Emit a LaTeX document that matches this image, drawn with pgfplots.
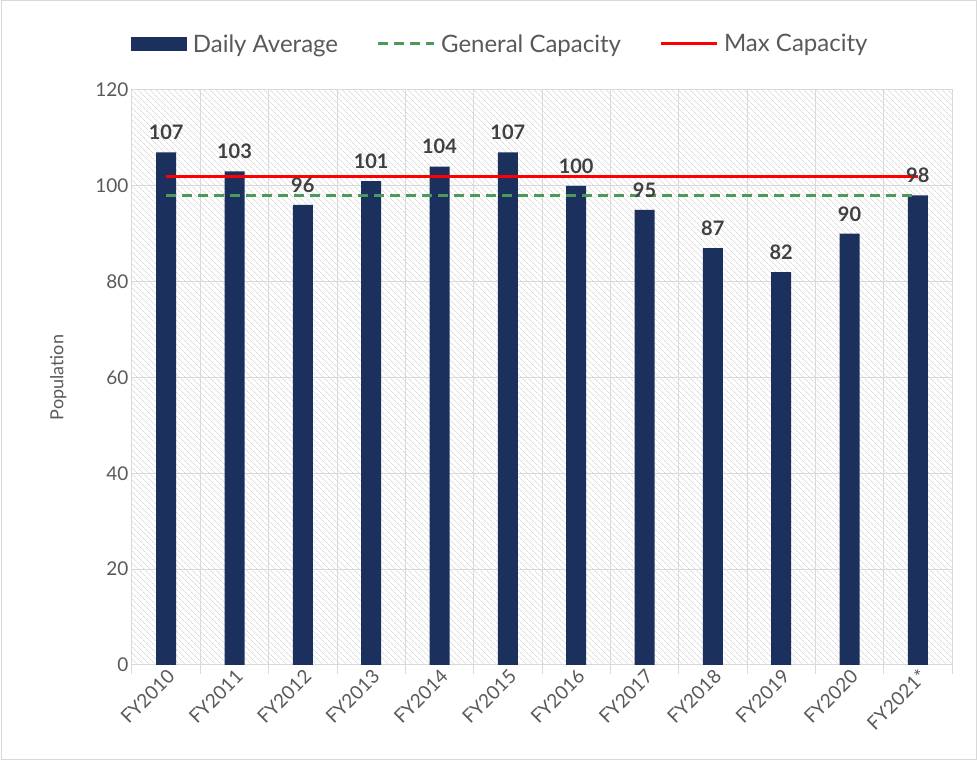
\documentclass[border=0pt]{standalone}
\usepackage{pgfplots}
\pgfplotsset{compat=1.18}
\usepackage{fontspec}
\setmainfont{Lato}
\usetikzlibrary{patterns.meta}
\definecolor{navy}{HTML}{1B305C}
\definecolor{txt}{HTML}{595959}
\definecolor{lbl}{HTML}{404040}
\definecolor{grn}{HTML}{4A9A5C}
\definecolor{grd}{HTML}{D9D9D9}
\definecolor{hatch}{HTML}{DADADA}
\begin{document}
\begin{tikzpicture}[x=1pt,y=1pt]
\path[use as bounding box] (0,0) rectangle (980,765);
\draw[grd, line width=1pt] (1,5) rectangle (976,764);
\begin{axis}[
  at={(132pt,100pt)}, anchor=south west,
  scale only axis, width=820pt, height=575pt,
  xmin=-0.5, xmax=11.5, ymin=0, ymax=120,
  ytick={0,20,...,120},
  xtick={0,...,11},
  xticklabels={FY2010,FY2011,FY2012,FY2013,FY2014,FY2015,FY2016,FY2017,FY2018,FY2019,FY2020,FY2021*},
  minor xtick={-0.5,0.5,...,11.5},
  ymajorgrids, xminorgrids,
  grid style={grd, line width=1pt},
  minor grid style={grd, line width=1pt},
  axis line style={grd, line width=1pt},
  tick pos=left, tick align=outside,
  major tick length=0pt, minor tick length=9pt,
  minor tick style={grd, line width=1pt},
  /pgf/number format/assume math mode=true,
  yticklabel style={font=\fontsize{19}{22}\selectfont, text=txt},
  xticklabel style={font=\fontsize{19}{22}\selectfont, text=txt, rotate=45, anchor=north east, inner sep=2pt},
  axis background/.style={pattern={Lines[angle=-45,distance=4pt,line width=0.8pt]}, pattern color=hatch},
  ylabel={Population},
  every axis y label/.style={at={(axis description cs:-0.09,0.5)}, rotate=90, anchor=center, font=\fontsize{18}{21}\selectfont, text=txt},
  legend columns=3,
  legend style={at={(axis description cs:0.449,1.08)}, anchor=center, draw=none, fill=none,
    font=\fontsize{24}{27}\selectfont, text=txt,
    /tikz/every even column/.append style={column sep=36pt},
    /tikz/every odd column/.append style={column sep=4pt}},
  legend image code/.code={\draw[#1] (0pt,0pt) -- (56pt,0pt);},
]
\addplot[ybar, bar width=20pt, fill=navy, draw=none,
  nodes near coords,
  every node near coord/.append style={font=\bfseries\fontsize{20}{24}\selectfont, text=lbl, yshift=9pt},
  legend image code/.code={\fill[navy] (0pt,-7pt) rectangle (56pt,7pt);}]
  coordinates {(0,107) (1,103) (2,96) (3,101) (4,104) (5,107) (6,100) (7,95) (8,87) (9,82) (10,90) (11,98)};
\addlegendentry{Daily Average}
\addplot[grn, line width=3pt, dash pattern=on 10pt off 6pt] coordinates {(0,98) (11,98)};
\addlegendentry{General Capacity}
\addplot[red, line width=3pt] coordinates {(0,102) (11,102)};
\addlegendentry{Max Capacity}
\end{axis}
\end{tikzpicture}
\end{document}
